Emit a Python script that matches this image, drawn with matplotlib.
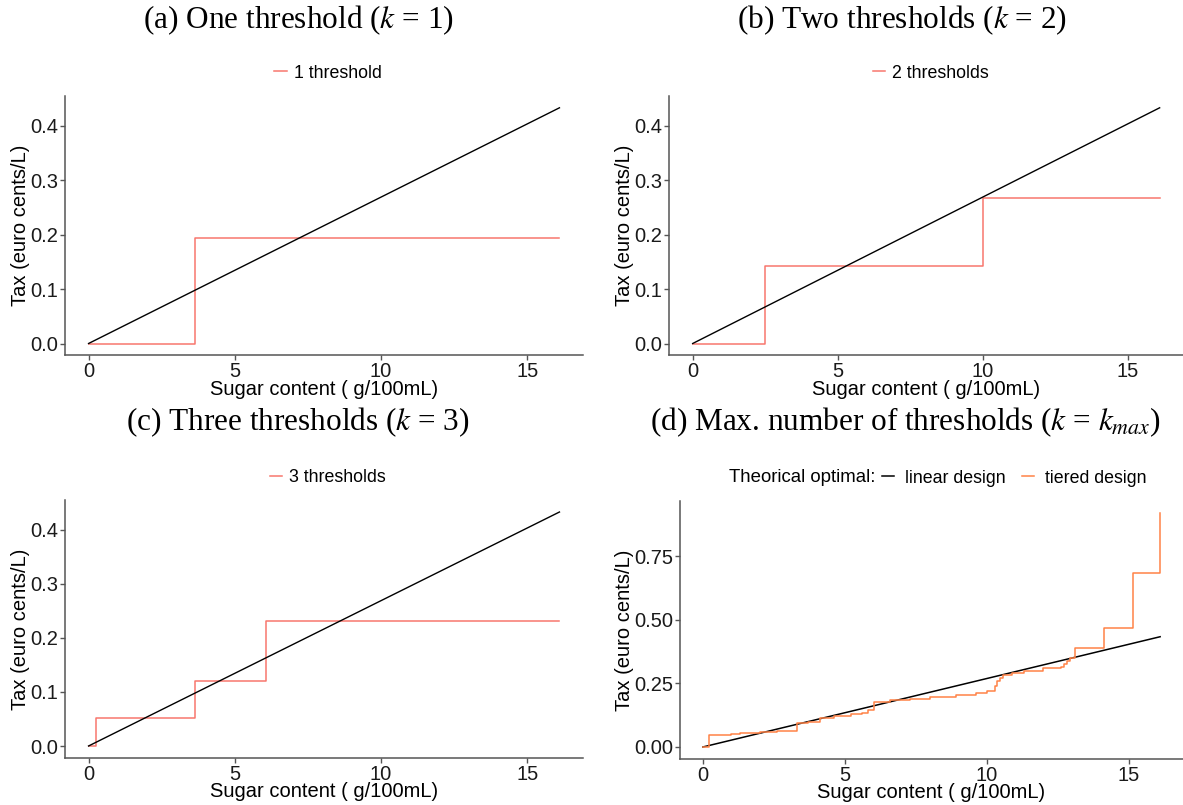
import matplotlib
matplotlib.use("Agg")
import matplotlib.pyplot as plt

plt.rcParams['font.family'] = ['Liberation Sans', 'DejaVu Sans']
plt.rcParams['mathtext.fontset'] = 'stix'

# linear optimal design (same in every panel)
lin_x = [0, 16.1]
lin_y = [0, 0.433]

# tiered designs, step functions (x = start of each tier)
a_x = [0, 3.65, 16.1]
a_y = [0, 0.194, 0.194]

b_x = [0, 2.5, 10.0, 16.1]
b_y = [0, 0.143, 0.268, 0.268]

c_x = [0, 0.25, 3.65, 6.05, 16.1]
c_y = [0, 0.052, 0.12, 0.232, 0.232]

d_x = [0, 0.22, 1.0, 1.3, 2.0, 2.6, 3.32, 3.7, 4.13, 4.6, 5.2, 5.6, 5.81, 6.02,
       6.6, 7.3, 8.0, 8.9, 9.6, 10.0, 10.27, 10.35, 10.45, 10.57, 10.9, 11.3,
       11.96, 12.6, 12.72, 12.83, 12.94, 13.1, 14.13, 15.15, 16.1]
d_y = [0, 0.046, 0.050, 0.055, 0.058, 0.061, 0.095, 0.098, 0.112, 0.120, 0.128,
       0.133, 0.145, 0.175, 0.183, 0.190, 0.196, 0.203, 0.212, 0.220, 0.240,
       0.258, 0.272, 0.283, 0.290, 0.298, 0.309, 0.316, 0.327, 0.338, 0.350,
       0.389, 0.468, 0.685, 0.92]

titles = [r"(a) One threshold ($k$ = 1)",
          r"(b) Two thresholds ($k$ = 2)",
          r"(c) Three thresholds ($k$ = 3)",
          r"(d) Max. number of thresholds ($k$ = $k_{max}$)"]

W, H = 1183, 805
fig = plt.figure(figsize=(W / 100, H / 100), dpi=100)

RED = '#F8766D'
ORANGE = '#FF8246'
SPINE = '#555555'
FS = 14.5


def pix_axes(l, t, r, b):
    return fig.add_axes([l / W, 1 - b / H, (r - l) / W, (b - t) / H])


def style(ax, ymax, yticks, fmt):
    for s in ['top', 'right']:
        ax.spines[s].set_visible(False)
    for s in ['left', 'bottom']:
        ax.spines[s].set_color(SPINE)
        ax.spines[s].set_linewidth(1.1)
    ax.set_xlim(-0.805, 16.905)
    ax.set_ylim(-0.05 * ymax, 1.05 * ymax)
    ax.set_xticks([0, 5, 10, 15])
    ax.set_yticks(yticks)
    ax.set_yticklabels([fmt % v for v in yticks])
    ax.tick_params(length=3.5, width=1, color=SPINE, labelsize=FS,
                   labelcolor='#1a1a1a', pad=1.5)
    ax.set_xlabel("Sugar content ( g/100mL)", fontsize=FS, labelpad=-1)
    ax.set_ylabel("Tax (euro cents/L)", fontsize=FS, labelpad=0)


boxes = [(65, 96, 583, 355.3), (669.3, 96, 1183, 355.3),
         (65, 500.3, 583, 757.7), (680, 501, 1183, 758.7)]
steps = [(a_x, a_y, "1 threshold"), (b_x, b_y, "2 thresholds"),
         (c_x, c_y, "3 thresholds")]
leg_cx = [328, 931, 328]
title_pos = [(298, 20), (902, 20), (298, 422), (905, 422)]

for i in range(4):
    l, t, r, b = boxes[i]
    ax = pix_axes(l, t, r, b)
    legy = 1 + 23 / (b - t)
    if i < 3:
        sx, sy, lab = steps[i]
        ax.plot(sx, sy, drawstyle='steps-post', color=RED, lw=1.1, label=lab)
        ax.plot(lin_x, lin_y, color='black', lw=1.0)
        style(ax, 0.433, [0, 0.1, 0.2, 0.3, 0.4], '%.1f')
        ax.legend(loc='center', bbox_to_anchor=((leg_cx[i] - l) / (r - l), legy),
                  frameon=False, fontsize=12.8, handlelength=0.7,
                  handletextpad=0.4, borderpad=0)
    else:
        ax.plot(lin_x, lin_y, color='black', lw=1.1, label='linear design')
        ax.plot(d_x, d_y, drawstyle='steps-post', color=ORANGE, lw=1.1,
                label='tiered design')
        style(ax, 0.92, [0, 0.25, 0.5, 0.75], '%.2f')
        ax.legend(loc='center left', bbox_to_anchor=((882 - l) / (r - l), legy),
                  ncol=2, frameon=False, fontsize=12.8, handlelength=0.7,
                  handletextpad=0.6, columnspacing=0.9, borderpad=0,
                  borderaxespad=0)
        fig.text(875 / W, 1 - 477 / H, "Theorical optimal:", fontsize=13.4,
                 ha='right', va='center')
    tx, ty = title_pos[i]
    fig.text(tx / W, 1 - ty / H, titles[i], fontsize=22.5,
             family='Liberation Serif', ha='center', va='center')

fig.savefig("out.png", dpi=100)
